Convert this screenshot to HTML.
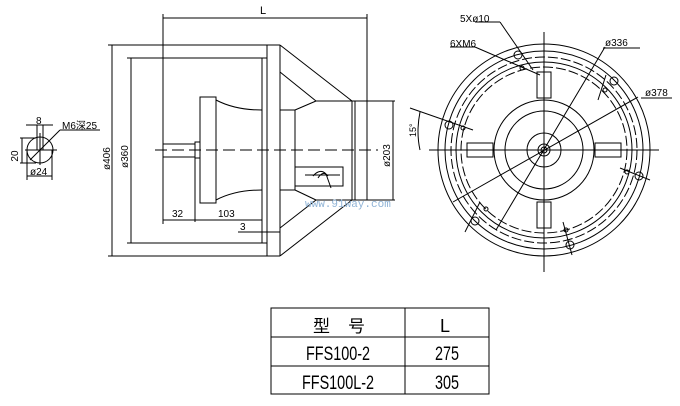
<!DOCTYPE html>
<html><head><meta charset="utf-8"><style>
html,body{margin:0;padding:0;background:#fff;width:680px;height:406px;overflow:hidden}
svg{display:block}
text{font-family:"Liberation Sans","Noto Sans CJK SC",sans-serif;fill:#000}
</style></head><body>
<svg width="680" height="406" viewBox="0 0 680 406" xmlns="http://www.w3.org/2000/svg">
<g stroke="#000" stroke-width="1" fill="none">
<!-- left detail -->
<circle cx="40" cy="150" r="13"/>
<line x1="40" y1="133" x2="40" y2="165"/>
<line x1="25" y1="150" x2="57" y2="150"/>
<line x1="37" y1="125" x2="37" y2="150"/><line x1="43" y1="125" x2="43" y2="150"/>
<line x1="26" y1="125" x2="53" y2="125"/>
<line x1="20" y1="138" x2="36" y2="138"/><line x1="20" y1="163" x2="36" y2="163"/>
<line x1="22" y1="138" x2="22" y2="163"/>
<line x1="27" y1="150" x2="27" y2="180"/><line x1="52" y1="150" x2="52" y2="180"/>
<line x1="27" y1="176" x2="52" y2="176"/>
<line x1="30" y1="160" x2="60" y2="130"/><line x1="60" y1="130" x2="100" y2="130"/>
<!-- L dim -->
<line x1="163" y1="14" x2="163" y2="224"/>
<line x1="367" y1="14" x2="367" y2="101"/>
<line x1="163" y1="18" x2="367" y2="18"/>
<!-- frame -->
<line x1="108" y1="45" x2="280" y2="45"/>
<line x1="108" y1="256" x2="280" y2="256"/>
<line x1="112" y1="45" x2="112" y2="256"/>
<line x1="127" y1="58" x2="267" y2="58"/>
<line x1="127" y1="243" x2="267" y2="243"/>
<line x1="131" y1="58" x2="131" y2="243"/>
<line x1="262" y1="58" x2="262" y2="243"/>
<line x1="267" y1="45" x2="267" y2="256"/>
<line x1="280" y1="45" x2="280" y2="256"/>
<!-- cone -->
<line x1="280" y1="45" x2="352" y2="101"/>
<line x1="280" y1="256" x2="352" y2="200"/>
<line x1="280" y1="72" x2="316" y2="101"/>
<line x1="280" y1="228" x2="316" y2="200"/>
<line x1="316" y1="101" x2="395" y2="101"/>
<line x1="316" y1="200" x2="395" y2="200"/>
<line x1="352" y1="101" x2="352" y2="200"/>
<line x1="355" y1="101" x2="355" y2="200"/>
<line x1="367" y1="101" x2="367" y2="200"/>
<line x1="393" y1="101" x2="393" y2="200"/>
<!-- motor hub -->
<rect x="280" y="110" width="15" height="80"/>
<line x1="295" y1="110" x2="316" y2="101"/>
<line x1="295" y1="190" x2="316" y2="200"/>
<rect x="295" y="167" width="48" height="19"/>
<path d="M313 176 Q320 168 326 174 L331 188 M318 178 Q323 170 328 176"/>
<line x1="305" y1="175" x2="340" y2="175"/>
<!-- bell -->
<rect x="200" y="97" width="16" height="106"/>
<path d="M216 100 Q235 110 262 110"/>
<path d="M216 200 Q235 190 262 190"/>
<rect x="163" y="144" width="32" height="13"/>
<rect x="195" y="142" width="5" height="16"/>
<line x1="155" y1="150" x2="378" y2="150" stroke-dasharray="12,5"/>
<!-- dims -->
<line x1="163" y1="220" x2="262" y2="220"/>
<line x1="195" y1="158" x2="195" y2="222"/>
<line x1="238" y1="232" x2="280" y2="232"/>
<!-- front view -->
<g transform="translate(544,150)">
<circle r="106"/><circle r="99"/><circle r="93" stroke-dasharray="10,3"/>
<circle r="88"/><circle r="83" stroke-dasharray="10,3"/>
<circle r="50"/><circle r="39"/><circle r="17"/><circle r="6"/><circle r="3"/>
<line x1="-115" y1="0" x2="115" y2="0"/>
<line x1="0" y1="-118" x2="0" y2="122"/>
<rect x="-7" y="-78" width="14" height="26"/>
<rect x="-7" y="52" width="14" height="26"/>
<rect x="-77" y="-7" width="26" height="14"/>
<rect x="51" y="-7" width="26" height="14"/>
</g>
<line x1="605" y1="47" x2="496" y2="230"/>
<line x1="638" y1="97" x2="453" y2="202"/>
<line x1="410" y1="108" x2="473" y2="130"/>
<g>
<circle cx="449" cy="125" r="4"/><circle cx="614" cy="81" r="4"/><circle cx="639" cy="176" r="4"/>
<circle cx="475" cy="221" r="4"/><circle cx="518" cy="55" r="4"/><circle cx="570" cy="245" r="4"/>
<circle cx="463" cy="128" r="2"/><circle cx="605" cy="90" r="2"/><circle cx="627" cy="172" r="2"/>
<circle cx="486" cy="209" r="2"/><circle cx="522" cy="68" r="2"/><circle cx="566" cy="230" r="2"/>
<line x1="620" y1="168" x2="650" y2="180"/>
<line x1="480" y1="202" x2="465" y2="232"/>
<line x1="563" y1="222" x2="572" y2="255"/>
<line x1="606" y1="75" x2="598" y2="100"/>
</g>
<line x1="475" y1="22" x2="500" y2="22"/><line x1="500" y1="22" x2="533" y2="70"/>
<line x1="450" y1="47" x2="475" y2="47"/><line x1="475" y1="47" x2="540" y2="75"/>
<line x1="603" y1="48" x2="640" y2="48"/>
<line x1="641" y1="98" x2="672" y2="98"/>
<path d="M420 112 Q416 132 420 150"/>
<!-- table -->
<rect x="271" y="308" width="218" height="86"/>
<line x1="271" y1="337" x2="489" y2="337"/>
<line x1="271" y1="366" x2="489" y2="366"/>
<line x1="405" y1="308" x2="405" y2="394"/>
</g>
<g font-size="11">
<text x="36" y="124" font-size="10">8</text>
<text x="62" y="129" font-size="10">M6深25</text>
<text x="18" y="156" font-size="10" transform="rotate(-90 18 156)" text-anchor="middle">20</text>
<text x="30" y="175" font-size="10">ø24</text>
<text x="260" y="14">L</text>
<text x="110" y="170" transform="rotate(-90 110 170)" font-size="10">ø406</text>
<text x="128" y="168" transform="rotate(-90 128 168)" font-size="10">ø360</text>
<text x="390" y="167" transform="rotate(-90 390 167)" font-size="10">ø203</text>
<text x="172" y="217" font-size="10">32</text>
<text x="218" y="217" font-size="10">103</text>
<text x="240" y="230" font-size="10">3</text>
<text x="408" y="137" font-size="9" transform="rotate(-90 412 133)">15°</text>
<text x="305" y="207" font-size="11" style="fill:#8fb3d6;font-family:'Liberation Mono',monospace">www.91way.com</text>
<text x="460" y="22" font-size="10">5Xø10</text>
<text x="450" y="47" font-size="10">6XM6</text>
<text x="605" y="46" font-size="10">ø336</text>
<text x="645" y="96" font-size="10">ø378</text>
<text x="313" y="332" font-size="17">型</text><text x="348" y="332" font-size="17">号</text>
<text x="440" y="332" font-size="18">L</text>
<text x="0" y="0" font-size="18" text-anchor="middle" transform="translate(338 360) scale(0.8 1.1)">FFS100-2</text>
<text x="0" y="0" font-size="18" text-anchor="middle" transform="translate(447 360) scale(0.8 1.1)">275</text>
<text x="0" y="0" font-size="18" text-anchor="middle" transform="translate(338 389) scale(0.8 1.1)">FFS100L-2</text>
<text x="0" y="0" font-size="18" text-anchor="middle" transform="translate(447 389) scale(0.8 1.1)">305</text>
</g>
</svg>
</body></html>
